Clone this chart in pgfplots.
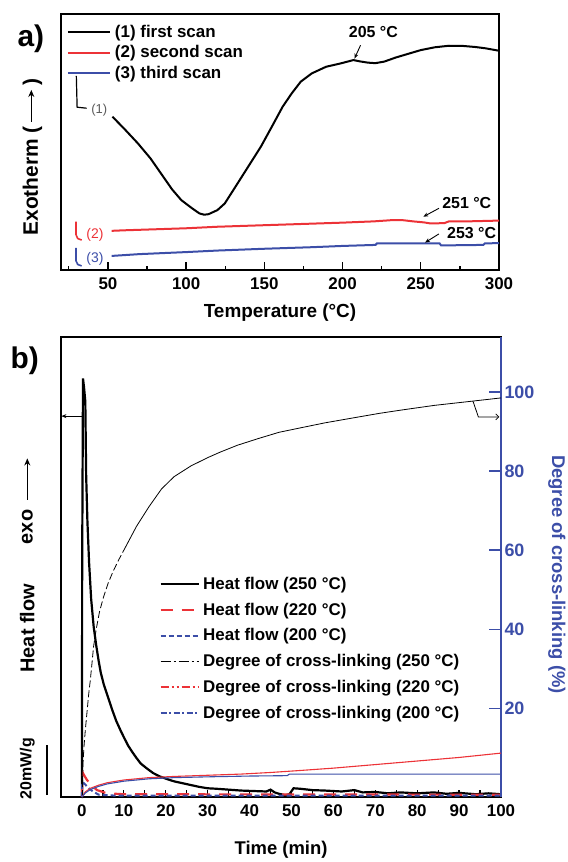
\documentclass[border=0pt]{standalone}
\usepackage{fontspec}
\setmainfont{Liberation Sans}
\usepackage{pgfplots}
\pgfplotsset{compat=1.18}
\usetikzlibrary{arrows.meta}

\definecolor{scanred}{RGB}{236,50,55}
\definecolor{scanblue}{RGB}{60,78,168}
\definecolor{labelgray}{RGB}{90,90,90}

\newcommand{\fs}[1]{\bfseries\fontsize{#1}{#1}\selectfont}

\pgfplotsset{
  every axis/.append style={
    scale only axis,
    /pgf/number format/assume math mode=true,
    tick align=inside,
    ticklabel style={font=\fs{17}},
    axis line style={line width=1.8bp},
  },
}

\begin{document}
\begin{tikzpicture}
\path[use as bounding box] (0,0) rectangle (568bp,-862bp);

% ---------------- panel a ----------------
\begin{axis}[
  at={(61bp,-270bp)}, anchor=south west,
  width=438bp, height=256bp,
  xmin=20, xmax=300, ymin=0, ymax=100,
  xtick={50,100,...,300}, minor xtick={25,75,...,275},
  xtick pos=left, ytick=\empty,
  major tick length=8bp, minor tick length=4bp,
  every tick/.style={black, line width=1.3bp},
  xticklabel style={yshift=-4bp},
  xlabel={Temperature (°C)},
  xlabel style={font=\fs{19}, at={(axis description cs:0.5,-0.168)}, anchor=center},
  ylabel={Exotherm (\,\tikz[baseline=-0.6ex]\draw[-{Stealth[length=7bp,width=6bp]},line width=1.5bp] (0,0) -- (32bp,0);\,)},
  ylabel style={font=\fs{21}, at={(axis description cs:-0.065,0.441)}, anchor=center},
  legend style={at={(0.0132,0.962)}, anchor=north west, draw=none, fill=none,
    font=\fs{17}, row sep=3.5bp, column sep=2.5bp, inner sep=0pt, nodes={inner sep=1.5bp}},
  legend cell align=left,
  legend image code/.code={\draw[#1] (0bp,0bp) -- (42bp,0bp);},
  clip=false,
]
\addplot[black, line width=2bp] coordinates {
(52.9,59.9)(61,54.8)(69.1,49.5)(77.2,43.6)(85.3,36.5)(91,31.5)(96.9,27.3)
(103.8,24.1)(108.5,22.1)(111.5,21.6)(114.3,21.8)(120,23.4)(124.7,26)
(131.6,32.6)(139.7,40.4)(147.8,48.2)(154.8,56)(161.7,63.8)(167.5,69)
(173.3,73.6)(180.3,76.8)(189.5,79.4)(198.8,80.7)(206.9,82.0)(211,81.5)
(216.2,81.0)(221,80.8)(226.6,81.4)(234,83)(242.8,84.6)(250,85.9)(259,87.0)
(268,87.6)(277.5,87.5)(285,87.1)(291.4,86.6)(299.5,85.7)
};
\addplot[scanred, line width=2bp] coordinates {
(52.4,15.3)(60,15.5)(80,15.9)(100,16.3)(120,16.9)(140,17.3)(160,17.7)
(180,18.1)(200,18.5)(220,19.0)(232,19.5)(238,19.5)(245,19.0)(252,18.6)
(256,18.2)(265,18.3)(268,19.0)(280,19.0)(300,19.3)
};
\addplot[scanblue, line width=2bp] coordinates {
(52.4,5.5)(70,6.2)(100,7.0)(120,7.6)(150,8.3)(180,8.9)(200,9.4)(221,9.8)
(222,10.4)(262,10.4)(263,9.6)(290,9.8)(291,10.4)(300,10.5)
};
\legend{(1) first scan, (2) second scan, (3) third scan}

\draw[black, line width=1.2bp] (axis cs:29.8,75.8) -- (axis cs:30.3,63.6) -- (axis cs:36.4,63.2);
\node[labelgray, font=\fontsize{13}{13}\selectfont] at (axis cs:44.5,62.5) {(1)};
\draw[scanred, line width=1.6bp] (axis cs:29.6,18.9) -- (axis cs:29.6,13.8) to[out=-90,in=180] (axis cs:33.2,11.7);
\node[scanred, font=\fontsize{14}{14}\selectfont] at (axis cs:41.7,13.7) {(2)};
\draw[scanblue, line width=1.6bp] (axis cs:29.6,8.6) -- (axis cs:29.6,3.6) to[out=-90,in=180] (axis cs:33.2,1.6);
\node[scanblue, font=\fontsize{14}{14}\selectfont] at (axis cs:41.7,4.2) {(3)};

\node[font=\fs{16}] at (axis cs:219.7,93.1) {205 °C};
\draw[-{Stealth[open,length=5bp,width=4bp]}, line width=0.9bp] (axis cs:211.5,87.8) -- (axis cs:207.6,82.6);
\node[font=\fs{16}] at (axis cs:279.4,26) {251 °C};
\draw[-{Stealth[open,length=5bp,width=4bp]}, line width=0.9bp] (axis cs:261.6,24.1) -- (axis cs:251.6,20.8);
\node[font=\fs{16}] at (axis cs:282.5,14.3) {253 °C};
\draw[-{Stealth[open,length=5bp,width=4bp]}, line width=0.9bp] (axis cs:261.6,14.1) -- (axis cs:252.7,10.7);

\node[font=\fs{30}] at (axis cs:0.7,90.5) {a)};
\end{axis}

% ---------------- panel b: heat flow ----------------
\begin{axis}[
  at={(61bp,-797bp)}, anchor=south west,
  width=440bp, height=460bp,
  xmin=-5, xmax=100, ymin=0, ymax=100,
  xtick={0,10,...,100}, minor x tick num=1,
  xtick pos=left, ytick=\empty,
  major tick length=7bp, minor tick length=7bp,
  every tick/.style={black, line width=1.2bp},
  xticklabel style={yshift=-4bp},
  xlabel={Time (min)},
  xlabel style={font=\fs{18.5}, at={(axis description cs:0.5,-0.115)}, anchor=center},
  clip=false,
]
\addplot[black, line width=2.2bp] coordinates {
(-0.1,0)(0,0)(0.05,50)(0.25,91)(0.5,89)(0.8,86)(1.0,70)(1.3,60)(1.7,51)
(2.2,43)(2.8,37)(3.4,33)(4.0,29.5)(4.5,27)(5.2,24.5)(6.0,22.3)(7.2,19)
(8.2,16.5)(9.2,14.5)(10,13)(11,11.2)(12,9.8)(13,8.5)(14,7.3)(15.5,6.2)
(17,5.2)(18.5,4.5)(20.3,3.9)(22,3.4)(24,3.0)(26,2.6)(28,2.2)(30,1.9)
(32,1.8)(35,1.6)(38,1.4)(41,1.3)(44,1.2)(45,1.6)(46,1.0)(47,0.7)(48.5,0.4)
(49.5,0.6)(50.5,1.9)(52,1.8)(55,1.5)(58,1.4)(62,1.2)(65,1.5)(67,1.0)
(70,1.1)(73,0.8)(76,1.0)(80,0.8)(84,1.0)(87,0.7)(90,0.9)(94,0.6)(97,0.8)(100,0.6)
};
\addplot[scanred, line width=2.2bp, dash pattern=on 12bp off 9bp] coordinates {
(0,0)(0.1,3)(0.3,5.1)(0.6,4.6)(1.2,3.7)(2.4,2.4)(3.6,1.5)(6,0.8)(10,0.6)(100,0.5)
};
\addplot[scanblue, line width=2bp, dash pattern=on 5bp off 3bp] coordinates {
(0,0)(0.05,2.5)(0.15,3.3)(0.8,2.7)(1.6,1.9)(2.8,1.1)(4,0.5)(8,0.3)(100,0.3)
};
\draw[-{Stealth[length=5bp,width=4bp]}, line width=0.8bp] (axis cs:0,82.8) -- (axis cs:-4.9,82.8);
\draw[line width=2bp] (axis cs:-8.34,0.43) -- (axis cs:-8.34,11.3);
\node[rotate=90, font=\fs{16}] at (axis cs:-13.04,6.2) {20mW/g};
\node[rotate=90, font=\fs{20}] at (axis cs:-13.04,36.7) {Heat flow};
\node[rotate=90, font=\fs{20}] at (axis cs:-13.04,58.7) {exo};
\draw[-{Stealth[length=7bp,width=6bp]}, line width=1.5bp] (axis cs:-13.04,64.6) -- (axis cs:-13.04,73.6);
\node[font=\fs{30}] at (axis cs:-13.64,94.9) {b)};
\end{axis}

% ---------------- panel b: degree of cross-linking ----------------
\begin{axis}[
  at={(61bp,-797bp)}, anchor=south west,
  width=440bp, height=460bp,
  xmin=-5, xmax=100, ymin=-2.4, ymax=113.9,
  axis x line=none, axis y line*=right,
  ytick={20,40,...,100},
  tick align=inside,
  major tick length=12bp,
  y axis line style={scanblue, line width=2bp},
  ytick style={scanblue, line width=1.6bp},
  yticklabel style={scanblue, font=\fs{18}},
  ylabel={Degree of cross-linking (\%)},
  ylabel style={scanblue, font=\fs{18.5}, rotate=180, at={(axis description cs:1.127,0.484)}, anchor=center},
  legend style={at={(0.2234,0.4816)}, anchor=north west, draw=none, fill=none,
    font=\fs{17}, row sep=9bp, column sep=2bp, inner sep=0pt, nodes={inner sep=1.5bp}},
  legend cell align=left,
  legend image code/.code={\draw[#1] (0bp,0bp) -- (38bp,0bp);},
  clip=false,
]
\addlegendimage{black, line width=2bp}
\addlegendentry{Heat flow (250 °C)}
\addlegendimage{scanred, line width=2.2bp, dash pattern=on 12bp off 9bp}
\addlegendentry{Heat flow (220 °C)}
\addlegendimage{scanblue, line width=2bp, dash pattern=on 5bp off 3bp}
\addlegendentry{Heat flow (200 °C)}
\addlegendimage{black, line width=1.5bp, dash pattern=on 10bp off 3bp on 2bp off 3bp}
\addlegendentry{Degree of cross-linking (250 °C)}
\addlegendimage{scanred, line width=1.5bp, dash pattern=on 8bp off 3bp on 2bp off 3bp on 2bp off 3bp}
\addlegendentry{Degree of cross-linking (220 °C)}
\addlegendimage{scanblue, line width=1.5bp, dash pattern=on 6bp off 2.5bp on 2bp off 2.5bp}
\addlegendentry{Degree of cross-linking (200 °C)}

\addplot[forget plot, black, line width=0.8bp, dash pattern=on 7bp off 3bp] coordinates {
(0.1,-2.4)(0.25,6.2)(0.5,10.5)(0.8,14.5)(1.2,19)(1.6,23.5)(2.0,27.2)(2.4,31.5)
(2.77,35.6)(3.4,40)(4.2,44.5)(5.16,48.2)(6.3,51.8)(7.5,54.8)(8.74,57.5)(10,60)
};
\addplot[forget plot, black, line width=0.8bp] coordinates {
(10,60)(11.5,63)(13,66)(16,71)(19,75.5)(22,78.6)(26,81.3)(30,83.4)(33,84.8)
(37,86.5)(42,88.2)(47,89.8)(52,90.9)(58,92.2)(65,93.5)(71,94.6)(76,95.4)
(84,96.6)(93.3,97.7)(100,98.5)
};
\addplot[forget plot, scanred, line width=1.1bp] coordinates {
(0,-2.4)(0.8,-1.1)(2,-0.2)(4,0.6)(6,1.2)(10,1.9)(16,2.5)(22,2.8)(30,3.1)
(38,3.4)(45,3.8)(52,4.3)(60,4.9)(70,5.8)(80,6.7)(90,7.6)(100,8.7)
};
\addplot[forget plot, scanblue, line width=1.1bp] coordinates {
(0,-2.4)(0.8,-1.4)(2,-0.5)(4,0.3)(6,0.9)(10,1.6)(16,2.2)(22,2.5)(30,2.7)
(40,2.9)(49,3.0)(49.5,3.4)(100,3.4)
};
\draw[-{Straight Barb[length=3bp]}, line width=0.8bp] (axis cs:93.3,97.7) -- (axis cs:94.6,93.7) -- (axis cs:99.6,93.7);
\end{axis}
\end{tikzpicture}
\end{document}
